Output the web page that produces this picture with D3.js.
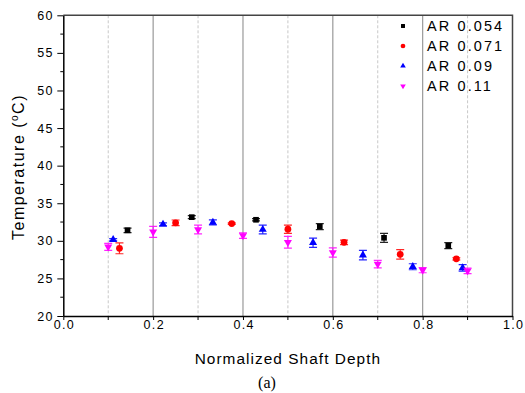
<!DOCTYPE html>
<html><head><meta charset="utf-8">
<script src="https://cdn.jsdelivr.net/npm/d3@7"></script>
<style>body{margin:0;background:#fff}svg{display:block}</style>
</head><body><svg id="c" width="525" height="393"></svg>
<script>
// Data
const seriesNames = ["AR 0.054", "AR 0.071", "AR 0.09", "AR 0.11"];
const seriesColors = ["#000000", "#ff0000", "#0000ff", "#ff00ff"];
const seriesShapes = ["square", "circle", "triangle", "triangleDown"];
const x054 = [0.143, 0.286, 0.429, 0.571, 0.714, 0.857];
const y054 = [31.4, 33.15, 32.8, 31.9, 30.4, 29.35];
const e054 = [0.3, 0.2, 0.15, 0.4, 0.6, 0.4];
const x071 = [0.125, 0.25, 0.375, 0.5, 0.625, 0.75, 0.875];
const y071 = [29.0, 32.4, 32.3, 31.55, 29.8, 28.2, 27.6];
const e071 = [0.72, 0.37, 0.1, 0.55, 0.3, 0.64, 0.15];
const x09 = [0.111, 0.222, 0.333, 0.444, 0.556, 0.667, 0.778, 0.889];
const y09 = [30.15, 32.2, 32.45, 31.5, 29.75, 28.1, 26.55, 26.4];
const e09 = [0.15, 0.2, 0.33, 0.58, 0.62, 0.64, 0.4, 0.44];
const x011 = [0.1, 0.2, 0.3, 0.4, 0.5, 0.6, 0.7, 0.8, 0.9];
const y011 = [29.2, 31.2, 31.5, 30.7, 29.8, 28.45, 26.9, 26.1, 26.0];
const e011 = [0.47, 0.73, 0.58, 0.37, 0.78, 0.62, 0.5, 0.35, 0.37];
const xTicks = [0, 0.2, 0.4, 0.6, 0.8, 1.0];
const xMinor = [0.1, 0.3, 0.5, 0.7, 0.9];
const yTicks = [20, 25, 30, 35, 40, 45, 50, 55, 60];
const yMinor = [22.5, 27.5, 32.5, 37.5, 42.5, 47.5, 52.5, 57.5];

const seriesX = [x054, x071, x09, x011];
const seriesY = [y054, y071, y09, y011];
const seriesE = [e054, e071, e09, e011];

const L = 63.3, R = 512.5, T = 15.3, B = 316;
const svg = d3.select("#c");
const x = d3.scaleLinear().domain([0, 1]).range([L, R]);
const y = d3.scaleLinear().domain([20, 60]).range([B, T]);

// grid
svg.append("g").selectAll("line").data(xMinor).join("line")
  .attr("x1", d => x(d)).attr("x2", d => x(d)).attr("y1", T).attr("y2", B)
  .attr("stroke", "#c8c8c8").attr("stroke-width", 1).attr("stroke-dasharray", "3,2");
svg.append("g").selectAll("line").data([0.2, 0.4, 0.6, 0.8]).join("line")
  .attr("x1", d => x(d)).attr("x2", d => x(d)).attr("y1", T).attr("y2", B)
  .attr("stroke", "#999").attr("stroke-width", 1.2);

// frame top/right
svg.append("path").attr("d", `M${L},${T}H${R}V${B}`).attr("fill", "none")
  .attr("stroke", "#444").attr("stroke-width", 1.5);

const font = "Liberation Sans, Arial, sans-serif";
// x axis
const xa = svg.append("g").attr("transform", `translate(0,${B})`)
  .call(d3.axisBottom(x).tickValues(xTicks).tickFormat(d3.format(".1f")).tickSize(4).tickSizeOuter(0));
xa.append("g").selectAll("line").data(xMinor).join("line")
  .attr("x1", d => x(d)).attr("x2", d => x(d)).attr("y1", 0).attr("y2", 4).attr("stroke", "#000");
xa.select(".domain").attr("stroke-width", 1.5);
xa.selectAll("text").attr("font-family", font).attr("font-size", 12.5).attr("fill", "#000")
  .attr("letter-spacing", 1.3).attr("y", 13).attr("dy", 0).attr("dx", 0.6);

// y axis
const ya = svg.append("g").attr("transform", `translate(${L},0)`)
  .call(d3.axisLeft(y).tickValues(yTicks).tickSize(6).tickSizeOuter(0));
ya.append("g").selectAll("line").data(yMinor).join("line")
  .attr("x1", -3).attr("x2", 0).attr("y1", d => y(d)).attr("y2", d => y(d)).attr("stroke", "#000");
ya.select(".domain").attr("stroke-width", 1.5);
ya.selectAll("text").attr("font-family", font).attr("font-size", 12.5).attr("fill", "#000")
  .attr("letter-spacing", 1.3).attr("x", -9.5);

// symbols
function sym(shape) {
  if (shape === "square") return d3.symbol(d3.symbolSquare, 32)();
  if (shape === "circle") return d3.symbol(d3.symbolCircle, 36)();
  return d3.symbol(d3.symbolTriangle, 28)();
}

seriesNames.forEach((n, i) => {
  const g = svg.append("g");
  const data = seriesX[i].map((xv, j) => ({x: xv, y: seriesY[i][j], e: seriesE[i][j]}));
  const c = seriesColors[i];
  g.selectAll("path.eb").data(data).join("path").attr("class", "eb")
    .attr("d", d => {
      const cx = x(d.x), y1 = y(d.y + d.e), y2 = y(d.y - d.e);
      return `M${cx},${y1}V${y2}M${cx-4},${y1}H${cx+4}M${cx-4},${y2}H${cx+4}`;
    })
    .attr("stroke", c).attr("stroke-width", 1.2).attr("fill", "none").attr("opacity", 0.85);
  g.selectAll("path.m").data(data).join("path").attr("class", "m")
    .attr("d", sym(seriesShapes[i]))
    .attr("transform", d => `translate(${x(d.x)},${y(d.y)})` + (seriesShapes[i] === "triangleDown" ? " rotate(180)" : ""))
    .attr("fill", c);
});

// legend
const lg = svg.append("g");
seriesNames.forEach((n, i) => {
  const yy = 26 + i * 20;
  lg.append("path").attr("d", sym(seriesShapes[i]))
    .attr("transform", `translate(403,${yy})` + (seriesShapes[i] === "triangleDown" ? " rotate(180) scale(0.7)" : " scale(0.7)"))
    .attr("fill", seriesColors[i]);
  lg.append("text").attr("x", 427).attr("y", yy).attr("dy", "0.36em")
    .attr("font-family", font).attr("font-size", 14.5).attr("letter-spacing", 2.1)
    .attr("fill", "#000").text(n);
});

// axis titles
svg.append("text").attr("x", x(0.5)).attr("y", 364).attr("text-anchor", "middle")
  .attr("font-family", font).attr("font-size", 15.4).attr("letter-spacing", 1.05).text("Normalized Shaft Depth");
const yt = svg.append("text").attr("transform", `translate(24,167) rotate(-90)`)
  .attr("text-anchor", "middle").attr("font-family", font).attr("font-size", 16).attr("letter-spacing", 1.5);
yt.append("tspan").text("Temperature (");
yt.append("tspan").attr("dy", -6).attr("font-size", 10).text("o");
yt.append("tspan").attr("dy", 6).text("C)");
svg.append("text").attr("x", 267).attr("y", 388).attr("text-anchor", "middle")
  .attr("font-family", "Liberation Serif, Times New Roman, serif").attr("font-size", 16).text("(a)");
</script></body></html>
